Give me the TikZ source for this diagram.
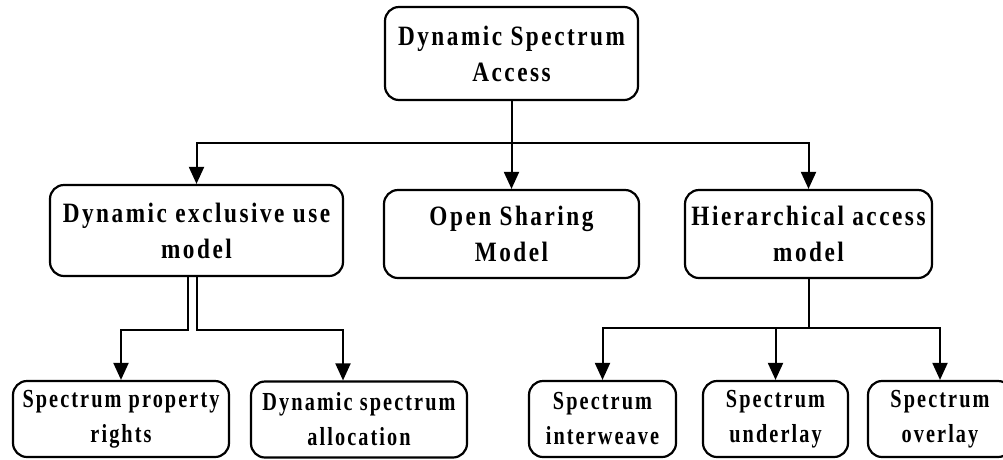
\documentclass[tikz,border=0pt]{standalone}
\usepackage{fontspec}
\newfontfamily\headfont[FakeStretch=0.83,LetterSpace=9]{Liberation Serif}
\newfontfamily\leaffont[FakeStretch=0.78,LetterSpace=8]{Liberation Serif}
\usetikzlibrary{arrows.meta}

\begin{document}
\begin{tikzpicture}[x=1pt,y=-1pt,
   box/.style={draw,line width=2.2pt,rounded corners=14pt,align=center,inner sep=0pt,
     font=\headfont\bfseries\fontsize{28}{36}\selectfont},
   leaf/.style={box,minimum height=76pt,font=\leaffont\bfseries\fontsize{26}{35}\selectfont},
   arr/.style={line width=2pt,-{Triangle[length=17pt,width=15pt]}}]
   \useasboundingbox (0,0) rectangle (1003,459);

   \draw (511.5,53.5) node[box,minimum width=253pt,minimum height=93pt] (access) {Dynamic Spectrum\\Access};

   \draw (196.5,230.5) node[box,minimum width=293pt,minimum height=91pt] (exclusive) {Dynamic exclusive use\\model};
   \draw (511.5,234) node[box,minimum width=255pt,minimum height=88pt] (sharing) {Open Sharing\\Model};
   \draw (808.5,234) node[box,minimum width=247pt,minimum height=88pt] (hierarchical) {Hierarchical access\\model};

   \draw (121,419) node[leaf,minimum width=216pt] (rights) {Spectrum property\\rights};
   \draw (359,419.5) node[leaf,minimum width=216pt] (allocation) {Dynamic spectrum\\allocation};
   \draw (602.5,419) node[leaf,minimum width=147pt] (interweave) {Spectrum\\interweave};
   \draw (775.5,419) node[leaf,minimum width=145pt] (underlay) {Spectrum\\underlay};
   \draw (940,419) node[leaf,minimum width=144pt] (overlay) {Spectrum\\overlay};

   \coordinate (split) at (511.5,143);
   \draw[line width=2pt] (access.south) -- (split);
   \draw[arr] (split) -| (exclusive.north);
   \draw[arr] (split) -- (sharing.north);
   \draw[arr] (split) -| (hierarchical.north);

   \draw[arr] ([xshift=-9pt]exclusive.south) -- ++(0,53) -| (rights.north);
   \draw[arr] (exclusive.south) -- ++(0,53) -| ([xshift=-16pt]allocation.north);

   \coordinate (fork) at (808.5,328);
   \draw[line width=2pt] (hierarchical.south) -- (fork);
   \draw[arr] (fork) -| (interweave.north);
   \draw[arr] (fork) -| (underlay.north);
   \draw[arr] (fork) -| (overlay.north);

\end{tikzpicture}
\end{document}
